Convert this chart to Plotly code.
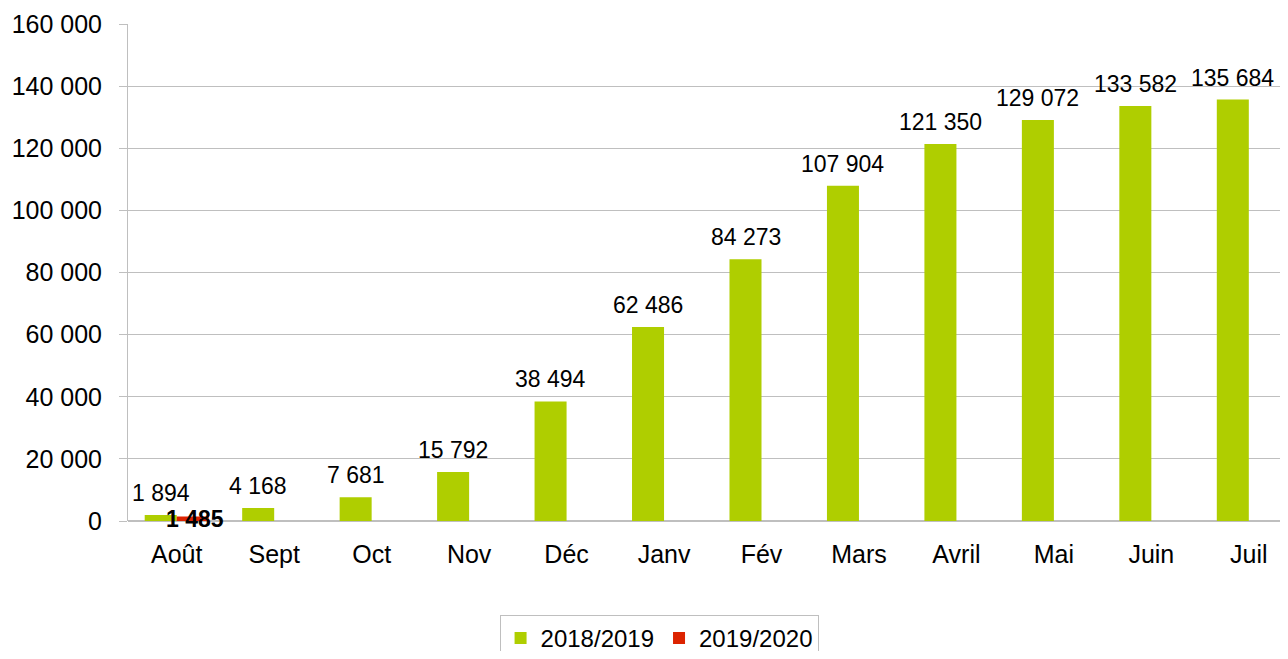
import plotly.graph_objects as go

months = ["Août", "Sept", "Oct", "Nov", "Déc", "Janv", "Fév", "Mars", "Avril", "Mai", "Juin", "Juil"]
s2018 = [1894, 4168, 7681, 15792, 38494, 62486, 84273, 107904, 121350, 129072, 133582, 135684]
s2020_months = ["Août"]
s2020 = [1485]

green = "#AFCE00"
red = "#DC2300"
font = "Liberation Sans, Arial, sans-serif"

fig = go.Figure()
fig.add_trace(go.Bar(x=months, y=s2018, name="2018/2019", marker=dict(color=green, line=dict(width=0))))
fig.add_trace(go.Bar(x=s2020_months, y=s2020, name="2019/2020", marker=dict(color=red, line=dict(width=0))))

def fmt(v):
    return f"{v:,}".replace(",", " ")

for m, v in zip(months, s2018):
    fig.add_annotation(x=m, y=v, text=fmt(v), showarrow=False, xshift=-16, yanchor="bottom", yshift=7,
                       font=dict(family=font, size=23, color="#000"))
for m, v in zip(s2020_months, s2020):
    fig.add_annotation(x=m, y=v, text="<b>" + fmt(v) + "</b>", showarrow=False, xshift=18, yanchor="middle", yshift=-3,
                       font=dict(family=font, size=23, color="#000"))

fig.update_layout(
    width=1272, height=643,
    margin=dict(l=120, r=0, t=16, b=130, autoexpand=False),
    paper_bgcolor="white", plot_bgcolor="white",
    barmode="group", bargap=0.343, bargroupgap=0,
    separators=", ",
    font=dict(family=font, size=24, color="#000"),
    showlegend=True,
    legend=dict(orientation="h", x=0.461, xanchor="center", y=-0.189, yanchor="top",
                bordercolor="#BFBFBF", borderwidth=1, font=dict(size=24),
                itemwidth=30, traceorder="normal"),
    xaxis=dict(showgrid=False, ticks="", tickfont=dict(size=25), showline=False,
               range=[-0.5, 11.32], ticklabelstandoff=16),
    yaxis=dict(range=[0, 160000], dtick=20000, tickformat=",d", showgrid=True, gridcolor="#BFBFBF",
               gridwidth=1, ticks="outside", ticklen=8, tickcolor="#BFBFBF", showline=True,
               linecolor="#BFBFBF", linewidth=1, zeroline=True, zerolinecolor="#BFBFBF",
               tickfont=dict(size=25), ticklabelstandoff=12),
)
fig.write_html("out.html")
